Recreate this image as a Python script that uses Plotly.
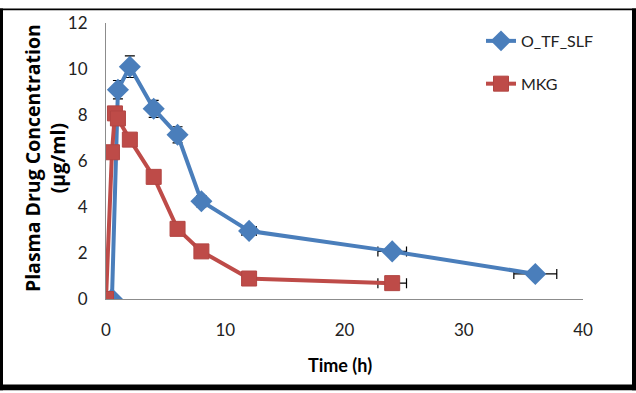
import plotly.graph_objects as go

# Data
t_otf = [0.5, 1, 2, 4, 6, 8, 12, 24, 36]
c_otf = [0, 9.1, 10.1, 8.27, 7.14, 4.25, 2.96, 2.07, 1.09]
ey_otf = [None, 0.4, 0.47, 0.37, 0.35, 0.25, None, None, None]
ex_otf = [None, None, None, None, None, None, 0.6, 1.2, 1.8]

t_mkg = [0, 0.5, 0.75, 1, 2, 4, 6, 8, 12, 24]
c_mkg = [0, 6.38, 8.07, 7.85, 6.93, 5.31, 3.05, 2.07, 0.89, 0.69]
ex_mkg = [None, None, None, None, None, None, None, None, None, 1.2]

names = ["O_TF_SLF", "MKG"]
x_ticks = [0, 10, 20, 30, 40]
y_ticks = [0, 2, 4, 6, 8, 10, 12]

BLUE = "#4A7EBB"
RED = "#BE4B48"
FONT = "Lato"

W, H = 636, 393
L, R, T, B = 106, 53, 15, 94
pw, ph = W - L - R, H - T - B

def px(x):
    return (x - L) / pw

def py(y):
    return (H - B - y) / ph

fig = go.Figure()
fig.add_trace(go.Scatter(
    x=t_otf, y=c_otf, name=names[0], mode="lines+markers", legendgroup="a",
    line=dict(color=BLUE, width=4),
    marker=dict(symbol="diamond", size=17, color=BLUE),
    error_y=dict(type="data", array=ey_otf, color="black", thickness=1.2, width=5),
    error_x=dict(type="data", array=ex_otf, color="black", thickness=1.2, width=5),
))
fig.add_trace(go.Scatter(
    x=t_mkg, y=c_mkg, name=names[1], mode="lines+markers", legendgroup="b",
    line=dict(color=RED, width=4),
    marker=dict(symbol="square", size=15, color=RED, line=dict(color="#B24542", width=1)),
    error_x=dict(type="data", array=ex_mkg, color="black", thickness=1.2, width=5),
))

axis_common = dict(showgrid=False, zeroline=False, showline=True, linecolor="#8C8C8C",
                   linewidth=1, ticks="", tickfont=dict(family=FONT, size=17, color="#222"))

fig.update_xaxes(range=[0, 40], tickvals=x_ticks, ticklabelstandoff=16, **axis_common)
fig.update_yaxes(range=[0, 12], tickvals=y_ticks, ticklabelstandoff=14, **axis_common)

# black frame
frame = [
    (0, 0, 3, H),
    (632, 0, W, H),
    (0, 0, W, 2),
    (0, 387, W, H),
]
shapes = []
for x0, y0, x1, y1 in frame:
    shapes.append(dict(type="rect", xref="paper", yref="paper",
                       x0=px(x0), x1=px(x1), y0=py(y1), y1=py(y0),
                       fillcolor="black", line=dict(width=0), layer="above"))

annotations = [
    dict(text="<b>Plasma Drug Concentration<br>(µg/ml)</b>", textangle=-90,
         xref="paper", yref="paper", x=px(45), y=py(154), showarrow=False,
         font=dict(family="Open Sans", size=19.5, color="black"),
         xanchor="center", yanchor="middle"),
    dict(text="<b>Time (h)</b>", xref="paper", yref="paper", x=px(340), y=py(367),
         showarrow=False, font=dict(family=FONT, size=18, color="black"),
         xanchor="center", yanchor="middle"),
]

fig.update_layout(
    width=W, height=H,
    margin=dict(l=L, r=R, t=T, b=B),
    paper_bgcolor="white", plot_bgcolor="white",
    shapes=shapes, annotations=annotations,
    showlegend=True,
    legend=dict(x=px(481), y=py(16), xanchor="left", yanchor="top",
                font=dict(family=FONT, size=16, color="#222"),
                tracegroupgap=19, bgcolor="rgba(0,0,0,0)", itemwidth=30),
)

fig.write_html("out.html", config={"displayModeBar": False},
               post_script="document.body.style.margin='0';document.body.style.overflow='hidden';")
